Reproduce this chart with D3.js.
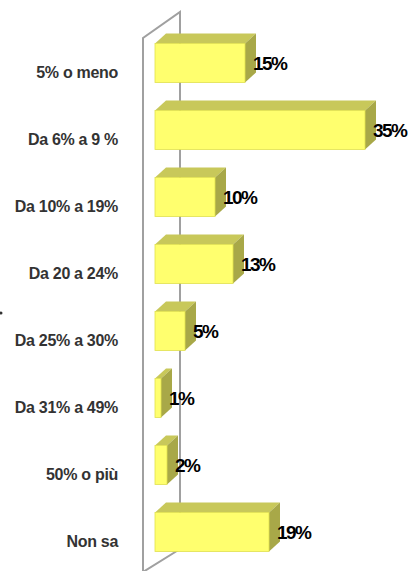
<!DOCTYPE html>
<html>
<head>
<meta charset="utf-8">
<script src="https://cdn.jsdelivr.net/npm/d3@7"></script>
<style>
  body { margin: 0; background: #fff; }
  text { font-family: "Liberation Sans Narrow", "Arial Narrow", "Liberation Sans", sans-serif; font-weight: bold; }
</style>
</head>
<body>
<div id="chart"></div>
<script>
// Chart size
const width = 409;
const height = 571;

// Data
const categories = ["5% o meno", "Da 6% a 9 %", "Da 10% a 19%", "Da 20 a 24%", "Da 25% a 30%", "Da 31% a 49%", "50% o più", "Non sa"];
const values = [15, 35, 10, 13, 5, 1, 2, 19];
const valueLabels = ["15%", "35%", "10%", "13%", "5%", "1%", "2%", "19%"];

// Scales
const x = d3.scaleLinear().domain([0, 35]).range([155, 365]);
const y = d3.scaleBand().domain(categories).range([29.5, 565.5]).paddingInner(0.42).paddingOuter(0.21);

// 3d depth of the bars
const dx = 11, dy = -10;

const svg = d3.select('#chart').append('svg')
    .attr('width', width)
    .attr('height', height);

// Left wall (3d)
const wall = svg.append('g').attr('stroke', '#a0a0a0').attr('stroke-width', 2).attr('fill', 'none');
wall.append('path').attr('d', 'M143,572 L143,38 L180,12 L180,549 L143,572');

// Bars
const bars = svg.append('g').selectAll('g')
    .data(categories)
    .join('g');

bars.each(function(c, i) {
    const g = d3.select(this);
    const x0 = x(0), x1 = x(values[i]);
    const y0 = y(c), y1 = y(c) + y.bandwidth();
    // top face
    g.append('path')
        .attr('d', `M${x0},${y0} L${x0 + dx},${y0 + dy} L${x1 + dx},${y0 + dy} L${x1},${y0} Z`)
        .attr('fill', '#c8c85a');
    // side face
    g.append('path')
        .attr('d', `M${x1},${y0} L${x1 + dx},${y0 + dy} L${x1 + dx},${y1 + dy} L${x1},${y1} Z`)
        .attr('fill', '#a8a848');
    // front face
    g.append('rect')
        .attr('x', x0).attr('y', y0)
        .attr('width', x1 - x0).attr('height', y1 - y0)
        .attr('fill', '#ffff6e')
        .attr('stroke', '#e0e04c').attr('stroke-width', 0.8);
});

// Value labels
svg.append('g').selectAll('text')
    .data(categories)
    .join('text')
    .attr('x', (c, i) => x(values[i]) + 8)
    .attr('y', c => y(c) + y.bandwidth() / 2)
    .attr('dy', '0.35em')
    .attr('font-size', 19)
    .attr('letter-spacing', -1.6)
    .attr('fill', '#000')
    .text((c, i) => valueLabels[i]);

// Category labels
svg.append('g').selectAll('text')
    .data(categories)
    .join('text')
    .attr('x', 118)
    .attr('y', c => y(c) + y.bandwidth() / 2 + 9)
    .attr('dy', '0.35em')
    .attr('text-anchor', 'end')
    .attr('font-size', 16)
    .attr('letter-spacing', -0.3)
    .attr('fill', '#333')
    .text(c => c);

// stray mark on the left edge
svg.append('circle').attr('cx', 1).attr('cy', 313).attr('r', 1.5).attr('fill', '#333');
</script>
</body>
</html>
